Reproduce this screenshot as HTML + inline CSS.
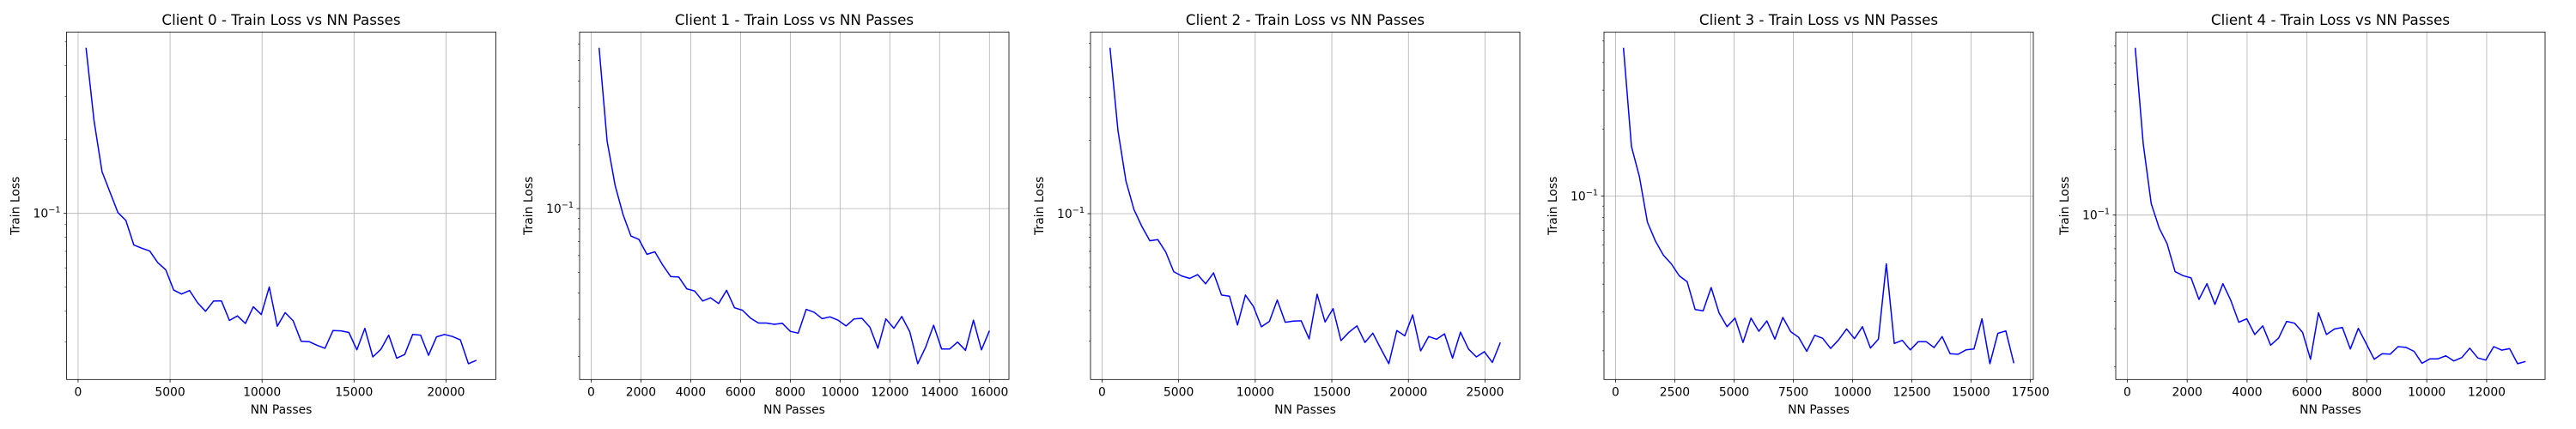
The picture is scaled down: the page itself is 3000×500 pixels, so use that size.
<!DOCTYPE html>
<html><head><meta charset="utf-8"><style>
html,body{margin:0;padding:0;background:#fff;}
svg{display:block;font-family:"DejaVu Sans","Liberation Sans",sans-serif;}
</style></head><body>
<svg id="fig" width="3000" height="500" viewBox="0 0 3000 500" xmlns="http://www.w3.org/2000/svg"></svg>
<script>
// ---- data ----
const titles = ["Client 0 - Train Loss vs NN Passes","Client 1 - Train Loss vs NN Passes","Client 2 - Train Loss vs NN Passes","Client 3 - Train Loss vs NN Passes","Client 4 - Train Loss vs NN Passes"];
const passStep = [433, 320, 520, 336, 266];
const xTickStep = [5000, 2000, 5000, 2500, 2000];
const loss0 = [0.473,0.239,0.148,0.122,0.1008,0.0935,0.0743,0.0721,0.0702,0.0630,0.0589,0.0487,0.0469,0.0485,0.0432,0.0399,0.0439,0.0440,0.0366,0.0382,0.0356,0.0416,0.0387,0.0501,0.0347,0.0394,0.0365,0.0301,0.0300,0.0290,0.0282,0.0333,0.0332,0.0327,0.0278,0.0340,0.0260,0.0279,0.0319,0.0257,0.0266,0.0321,0.0319,0.0264,0.0314,0.0321,0.0315,0.0305,0.0244,0.0252];
const loss1 = [0.575,0.209,0.129,0.0937,0.0742,0.0715,0.0608,0.0625,0.0540,0.0477,0.0475,0.0418,0.0408,0.0366,0.0379,0.0356,0.0411,0.0340,0.0331,0.0304,0.0288,0.0288,0.0284,0.0287,0.0263,0.0258,0.0334,0.0324,0.0302,0.0308,0.0297,0.0279,0.0301,0.0303,0.0275,0.0219,0.0301,0.0272,0.0309,0.0262,0.0185,0.0222,0.0281,0.0217,0.0217,0.0234,0.0214,0.0297,0.0215,0.0265];
const loss2 = [0.480,0.219,0.136,0.104,0.0886,0.0774,0.0782,0.0695,0.0578,0.0555,0.0542,0.0562,0.0515,0.0571,0.0463,0.0458,0.0349,0.0463,0.0416,0.0343,0.0361,0.0442,0.0358,0.0362,0.0363,0.0306,0.0467,0.0359,0.0407,0.0301,0.0326,0.0346,0.0296,0.0323,0.0279,0.0242,0.0331,0.0315,0.0384,0.0273,0.0313,0.0305,0.0321,0.0255,0.0326,0.0278,0.0258,0.0271,0.0245,0.0296];
const loss3 = [0.466,0.167,0.122,0.0761,0.0627,0.0541,0.0494,0.0436,0.0410,0.0307,0.0303,0.0386,0.0297,0.0257,0.0281,0.0218,0.0281,0.0245,0.0273,0.0226,0.0283,0.0244,0.0230,0.0199,0.0235,0.0228,0.0205,0.0224,0.0251,0.0227,0.0257,0.0206,0.0226,0.0494,0.0216,0.0223,0.0202,0.0220,0.0220,0.0207,0.0232,0.0194,0.0193,0.0202,0.0204,0.0279,0.0175,0.0240,0.0246,0.0176];
const loss4 = [0.589,0.213,0.113,0.0872,0.0738,0.0549,0.0526,0.0514,0.0409,0.0483,0.0388,0.0483,0.0405,0.0321,0.0333,0.0282,0.0309,0.0252,0.0272,0.0324,0.0318,0.0289,0.0217,0.0355,0.0282,0.0299,0.0304,0.0242,0.0301,0.0256,0.0217,0.0230,0.0229,0.0248,0.0246,0.0236,0.0208,0.0218,0.0218,0.0225,0.0213,0.0221,0.0244,0.0220,0.0215,0.0248,0.0239,0.0243,0.0207,0.0212];
const allLoss = [loss0, loss1, loss2, loss3, loss4];

// ---- layout ----
const NS = "http://www.w3.org/2000/svg";
const fig = document.getElementById('fig');
const panelLeft = [77.5, 675, 1270, 1868, 2464];
const PW = 500, TOP = 37.3, BOT = 442.3;
function mk(tag, attrs, parent){const e=document.createElementNS(NS,tag);for(const k in attrs)e.setAttribute(k,attrs[k]);(parent||fig).appendChild(e);return e;}

for (let p = 0; p < 5; p++) {
  const loss = allLoss[p];
  const xs = loss.map((_, i) => passStep[p] * (i + 1));
  const L = panelLeft[p], R = L + PW;
  const g = mk('g', {});
  
  
  // x scale
  const xmin = Math.min(...xs), xmax = Math.max(...xs);
  const xm = (xmax - xmin) * 0.05;
  const x0 = xmin - xm, x1 = xmax + xm;
  const sx = v => L + (v - x0) / (x1 - x0) * PW;
  // y log scale
  const lmin = Math.log10(Math.min(...loss)), lmax = Math.log10(Math.max(...loss));
  const lm = (lmax - lmin) * 0.05;
  const y0 = lmin - lm, y1 = lmax + lm;
  const sy = v => BOT - (Math.log10(v) - y0) / (y1 - y0) * (BOT - TOP);

  // grid + x ticks
  for (let t = 0; t <= x1; t += xTickStep[p]) {
    if (t < x0) continue;
    const X = sx(t);
    const gl = mk('line', {x1:X, x2:X, y1:TOP, y2:BOT, stroke:'#b0b0b0', 'stroke-width':0.8}, g);
    
    
    mk('line', {x1:X, x2:X, y1:BOT, y2:BOT+3.5, stroke:'#000', 'stroke-width':0.8}, g);
    const tl = mk('text', {x:X, y:BOT+19, 'font-size':13.9, 'text-anchor':'middle', fill:'#000'}, g);
    tl.textContent = String(t);
    
    
  }
  // y ticks (log)
  for (let d = -3; d <= 1; d++) {
    for (let m = 1; m <= 9; m++) {
      const v = m * Math.pow(10, d);
      const lv = Math.log10(v);
      if (lv < y0 || lv > y1) continue;
      const Y = sy(v);
      if (m === 1) {
        const gl = mk('line', {x1:L, x2:R, y1:Y, y2:Y, stroke:'#b0b0b0', 'stroke-width':0.8}, g);
        
        
        mk('line', {x1:L-3.5, x2:L, y1:Y, y2:Y, stroke:'#000', 'stroke-width':0.8}, g);
        const tl = mk('text', {x:L-7, y:Y+5, 'font-size':13.9, 'text-anchor':'end', fill:'#000'}, g);
        tl.innerHTML = '10<tspan dy="-6" font-size="9.7">\u2212' + (-d) + '</tspan>';
        
        
      } else {
        mk('line', {x1:L-2, x2:L, y1:Y, y2:Y, stroke:'#000', 'stroke-width':0.6}, g);
      }
    }
  }
  // series line
  const pts = xs.map((x, i) => sx(x).toFixed(1) + ',' + sy(loss[i]).toFixed(1)).join(' ');
  const line = mk('polyline', {points:pts, fill:'none', stroke:'#0000ff', 'stroke-width':1.5, 'stroke-linejoin':'round'}, g);
  
  
  // frame
  const fr = mk('rect', {x:L, y:TOP, width:PW, height:BOT-TOP, fill:'none', stroke:'#000', 'stroke-width':0.8}, g);
  
  
  // title
  const tt = mk('text', {x:L+PW/2, y:29, 'font-size':16.7, 'text-anchor':'middle', fill:'#000'}, g);
  tt.textContent = titles[p];
  
  
  // x label
  const xl = mk('text', {x:L+PW/2, y:482, 'font-size':13.9, 'text-anchor':'middle', fill:'#000'}, g);
  xl.textContent = 'NN Passes';
  
  
  // y label
  const yl = mk('text', {x:0, y:0, 'font-size':13.9, 'text-anchor':'middle', fill:'#000', transform:'translate(' + (L-55) + ',' + ((TOP+BOT)/2) + ') rotate(-90)'}, g);
  yl.textContent = 'Train Loss';
  
  
}
</script>
</body></html>
